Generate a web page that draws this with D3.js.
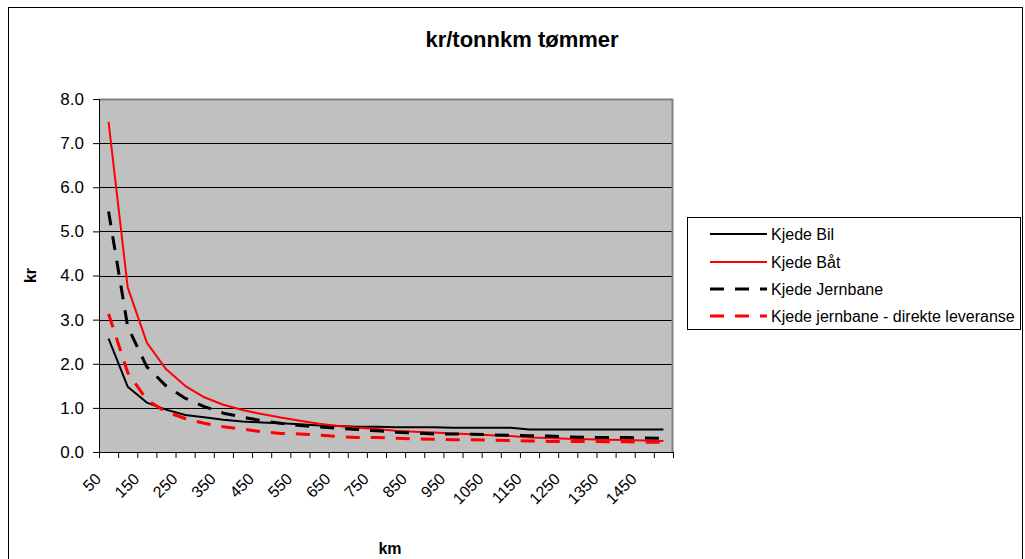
<!DOCTYPE html>
<html>
<head>
<meta charset="utf-8">
<script src="https://cdn.jsdelivr.net/npm/d3@7"></script>
<style>
  html, body { margin: 0; padding: 0; background: #fff; }
  svg { display: block; font-family: "Liberation Sans", Arial, sans-serif; }
</style>
</head>
<body>
<svg id="chart" width="1025" height="559"></svg>
<script>
const categories = [50, 100, 150, 200, 250, 300, 350, 400, 450, 500, 550, 600, 650, 700, 750,
                    800, 850, 900, 950, 1000, 1050, 1100, 1150, 1200, 1250, 1300, 1350, 1400, 1450, 1500];
const tickLabels = [50, 150, 250, 350, 450, 550, 650, 750, 850, 950, 1050, 1150, 1250, 1350, 1450];
const yTicks = [0, 1, 2, 3, 4, 5, 6, 7, 8];

const kjedeBil = [2.57, 1.48, 1.12, 0.96, 0.84, 0.79, 0.73, 0.69, 0.67, 0.65, 0.63, 0.60, 0.59, 0.57, 0.57,
                  0.56, 0.56, 0.56, 0.55, 0.55, 0.55, 0.55, 0.51, 0.51, 0.51, 0.51, 0.51, 0.51, 0.51, 0.51];
const kjedeBaat = [7.48, 3.73, 2.48, 1.88, 1.50, 1.24, 1.07, 0.95, 0.86, 0.78, 0.71, 0.64, 0.59, 0.55, 0.52,
                   0.48, 0.46, 0.44, 0.42, 0.40, 0.38, 0.36, 0.33, 0.32, 0.30, 0.29, 0.28, 0.27, 0.26, 0.25];
const kjedeJernbane = [5.45, 2.84, 1.93, 1.50, 1.22, 1.03, 0.88, 0.79, 0.71, 0.65, 0.60, 0.57, 0.54, 0.51, 0.48,
                       0.45, 0.43, 0.41, 0.41, 0.40, 0.39, 0.38, 0.37, 0.36, 0.34, 0.33, 0.33, 0.33, 0.32, 0.31];
const kjedeDirekte = [3.13, 1.80, 1.18, 0.91, 0.76, 0.65, 0.57, 0.52, 0.46, 0.42, 0.41, 0.38, 0.35, 0.33, 0.33,
                      0.31, 0.30, 0.29, 0.28, 0.28, 0.27, 0.26, 0.25, 0.24, 0.24, 0.24, 0.23, 0.23, 0.22, 0.22];

const seriesNames = ["Kjede Bil", "Kjede Båt", "Kjede Jernbane", "Kjede jernbane - direkte leveranse"];
const seriesValues = [kjedeBil, kjedeBaat, kjedeJernbane, kjedeDirekte];
const seriesColors = ["#000000", "#ff0000", "#000000", "#ff0000"];
const seriesDash = [null, null, "14,11", "14,11"];
const seriesWidth = [2, 2, 3, 3];

const svg = d3.select("#chart");
const L = 99, R = 673, T = 99, B = 452;

// outer border
svg.append("rect").attr("x", 8.5).attr("y", 7.5).attr("width", 1014).attr("height", 620)
  .attr("fill", "#fff").attr("stroke", "#000").attr("stroke-width", 1);

const x = d3.scaleBand().domain(categories).range([L, R]).padding(0);
const xEdge = d3.scaleLinear().domain([0, categories.length]).range([L, R]);
const y = d3.scaleLinear().domain([0, 8]).range([B, T]);

// plot background
svg.append("rect").attr("x", L).attr("y", T).attr("width", R - L).attr("height", B - T)
  .attr("fill", "#c0c0c0");

// gridlines
svg.append("g").selectAll("line").data(yTicks.filter(d => d > 0 && d < 8)).join("line")
  .attr("x1", L).attr("x2", R)
  .attr("y1", d => Math.round(y(d)) + 0.5).attr("y2", d => Math.round(y(d)) + 0.5)
  .attr("stroke", "#000").attr("stroke-width", 1);

// top and right border (gray)
svg.append("path")
  .attr("d", `M${L},${T + 0.5}H${R - 0.5}V${B}`)
  .attr("fill", "none").attr("stroke", "#808080").attr("stroke-width", 2);

// y axis
const yAxis = svg.append("g").attr("transform", `translate(${L},0)`)
  .call(d3.axisLeft(y).tickValues(yTicks).tickFormat(d3.format(".1f")).tickSize(6).tickPadding(9));
yAxis.select(".domain").attr("stroke", "#000");
yAxis.selectAll("text").attr("font-size", 17).attr("fill", "#000")
  .attr("font-family", "Liberation Sans, Arial, sans-serif");

// x axis (ticks at category edges)
const xAxis = svg.append("g").attr("transform", `translate(0,${B})`)
  .call(d3.axisBottom(xEdge).tickValues(d3.range(0, categories.length + 1)).tickFormat("").tickSize(6));
xAxis.select(".domain").attr("stroke", "#000");

// x tick labels (end of text at the left edge of the category)
svg.append("g").selectAll("text").data(tickLabels).join("text")
  .attr("transform", d => `translate(${x(d) - 1},${B + 24}) rotate(-45)`)
  .attr("text-anchor", "end")
  .attr("dy", "0.35em")
  .attr("font-size", 16)
  .text(d => d);

// lines
const line = d3.line().x((d, i) => x(categories[i]) + x.bandwidth() / 2).y(d => y(d));
seriesValues.forEach((vals, k) => {
  svg.append("path").datum(vals)
    .attr("d", line)
    .attr("fill", "none")
    .attr("stroke", seriesColors[k])
    .attr("stroke-width", seriesWidth[k])
    .attr("stroke-dasharray", seriesDash[k])
    .attr("stroke-linejoin", "round");
});

// title
svg.append("text").attr("x", 522).attr("y", 47).attr("text-anchor", "middle")
  .attr("font-size", 22).attr("font-weight", "bold").text("kr/tonnkm tømmer");

// axis titles
svg.append("text").attr("transform", `translate(36,${(T + B) / 2}) rotate(-90)`)
  .attr("text-anchor", "middle").attr("font-size", 16).attr("font-weight", "bold").text("kr");
svg.append("text").attr("x", (L + R) / 2 + 4).attr("y", 554).attr("text-anchor", "middle")
  .attr("font-size", 16).attr("font-weight", "bold").text("km");

// legend
const lg = svg.append("g");
lg.append("rect").attr("x", 687.5).attr("y", 217.5).attr("width", 333).attr("height", 112)
  .attr("fill", "#fff").attr("stroke", "#000").attr("stroke-width", 1);
const rowY = [234, 262, 289, 316];
seriesNames.forEach((name, k) => {
  lg.append("line").attr("x1", 710).attr("x2", 767).attr("y1", rowY[k]).attr("y2", rowY[k])
    .attr("stroke", seriesColors[k]).attr("stroke-width", seriesWidth[k])
    .attr("stroke-dasharray", seriesDash[k]);
  lg.append("text").attr("x", 771).attr("y", rowY[k]).attr("dy", "0.35em")
    .attr("font-size", 16).text(name);
});
</script>
</body>
</html>
